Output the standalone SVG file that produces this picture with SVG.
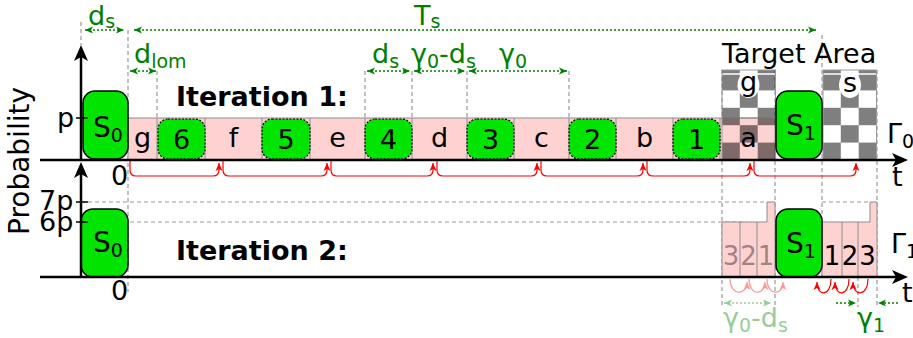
<svg xmlns="http://www.w3.org/2000/svg" width="913" height="338" viewBox="0 0 913 338">
<style>
text{font-family:"DejaVu Sans","Liberation Sans",sans-serif;font-size:27px;fill:#000}
.g{fill:#008000}
.b{font-weight:bold}
.sub{font-size:19px}
.dash{stroke:#999;stroke-width:1.2;stroke-dasharray:4 3;fill:none}
.dim{stroke:#008000;stroke-width:1.5;stroke-dasharray:2 2;fill:none;marker-start:url(#ga);marker-end:url(#ga)}
.axis{stroke:#000;stroke-width:2.5;fill:none;marker-end:url(#ax)}
.red{stroke:#f00;stroke-width:1.2;fill:none;marker-end:url(#ra)}
.pink{fill:#ffd2d2;stroke:#8c8c8c;stroke-width:1}
.sep{stroke:#8c8c8c;stroke-width:1}
.box{fill:#00e400;stroke:#000;stroke-width:1.5}
.nbox{fill:#00e400;stroke:#000;stroke-width:1.2;stroke-dasharray:2 1.5}
.tick{stroke:#000;stroke-width:1.5}
</style>
<defs>
<marker id="ax" viewBox="-20 -8 22 16" refX="-10" refY="0" markerWidth="22" markerHeight="16" orient="auto" markerUnits="userSpaceOnUse"><path d="M0,0 L-16,-7 L-12,0 L-16,7 Z" fill="#000"/></marker>
<marker id="ra" viewBox="-10 -5 12 10" refX="0" refY="0" markerWidth="12" markerHeight="10" orient="auto" markerUnits="userSpaceOnUse"><path d="M0,0 L-8,-3.5 L-6,0 L-8,3.5 Z" fill="#f00"/></marker>
<marker id="ga" viewBox="-10 -5 12 10" refX="0" refY="0" markerWidth="12" markerHeight="10" orient="auto-start-reverse" markerUnits="userSpaceOnUse"><path d="M0,0 L-8,-3.5 L-6,0 L-8,3.5 Z" fill="#008000"/></marker>
<g id="checker">
<g fill="#000" fill-opacity="0.5">
<rect x="0" y="0" width="17.8" height="20.4"/><rect x="35.7" y="0" width="17.8" height="20.4"/>
<rect x="17.8" y="20.4" width="17.9" height="17.4"/>
<rect x="0" y="37.8" width="17.8" height="17.4"/><rect x="35.7" y="37.8" width="17.8" height="17.4"/>
<rect x="17.8" y="55.2" width="17.9" height="17.4"/>
<rect x="0" y="72.6" width="17.8" height="17.4"/><rect x="35.7" y="72.6" width="17.8" height="17.4"/>
</g>
<line x1="0" y1="4" x2="53.5" y2="4" stroke="#fff" stroke-width="1.5"/>
<rect x="0" y="0" width="53.5" height="90" fill="none" stroke="#999" stroke-width="1"/>
</g>
</defs>

<g id="guides">
<line class="dash" x1="81" y1="22" x2="81" y2="45"/>
<line class="dash" x1="128" y1="30" x2="128" y2="292"/>
<line class="dash" x1="157" y1="71" x2="157" y2="118"/>
<line class="dash" x1="365" y1="71" x2="365" y2="118"/>
<line class="dash" x1="412" y1="71" x2="412" y2="118"/>
<line class="dash" x1="467" y1="71" x2="467" y2="118"/>
<line class="dash" x1="569" y1="71" x2="569" y2="118"/>
<line class="dash" x1="722" y1="70" x2="722" y2="307"/>
<line class="dash" x1="775" y1="70" x2="775" y2="307"/>
<line class="dash" x1="822" y1="35" x2="822" y2="277"/>
<line class="dash" x1="877" y1="70" x2="877" y2="307"/>
<line class="dash" x1="858" y1="277" x2="858" y2="307"/>
<line class="dash" x1="81" y1="202" x2="767" y2="202"/>
<line class="dash" x1="822" y1="202" x2="870" y2="202"/>
<line class="dash" x1="81" y1="222" x2="747" y2="222"/>
</g>

<g id="iteration1-strip">
<rect class="pink" x="128" y="118" width="647" height="42"/>
<use href="#checker" x="722" y="70"/>
<use href="#checker" x="823" y="70"/>
<g class="sep">
<line x1="157" y1="118" x2="157" y2="160"/><line x1="205" y1="118" x2="205" y2="160"/>
<line x1="262" y1="118" x2="262" y2="160"/><line x1="310" y1="118" x2="310" y2="160"/>
<line x1="365" y1="118" x2="365" y2="160"/><line x1="412" y1="118" x2="412" y2="160"/>
<line x1="467" y1="118" x2="467" y2="160"/><line x1="514" y1="118" x2="514" y2="160"/>
<line x1="569" y1="118" x2="569" y2="160"/><line x1="616" y1="118" x2="616" y2="160"/>
<line x1="673" y1="118" x2="673" y2="160"/><line x1="720" y1="118" x2="720" y2="160"/>
<line x1="722" y1="118" x2="775" y2="118"/>
</g>
<g text-anchor="middle">
<text x="142.5" y="147">g</text><text x="233.5" y="147">f</text><text x="337.5" y="147">e</text>
<text x="439.5" y="147">d</text><text x="541.5" y="147">c</text><text x="644.5" y="147">b</text>
<text x="748.5" y="147">a</text>
</g>
<ellipse cx="748.5" cy="85" rx="11" ry="13" fill="#fff"/>
<text x="748.5" y="91" text-anchor="middle">g</text>
<ellipse cx="850" cy="85" rx="11" ry="13" fill="#fff"/>
<text x="850" y="92" text-anchor="middle">s</text>
</g>

<g id="S0-1"><rect class="box" x="83" y="91" width="45" height="68" rx="12"/><text x="93" y="137" style="font-size:28px">S<tspan class="sub" dy="5">0</tspan></text></g>
<g id="box6"><rect class="nbox" x="158" y="119" width="47" height="40" rx="10"/><text x="181.5" y="149" text-anchor="middle">6</text></g>
<g id="box5"><rect class="nbox" x="262" y="119" width="48" height="40" rx="10"/><text x="286" y="149" text-anchor="middle">5</text></g>
<g id="box4"><rect class="nbox" x="365" y="119" width="47" height="40" rx="10"/><text x="388.5" y="149" text-anchor="middle">4</text></g>
<g id="box3"><rect class="nbox" x="467" y="119" width="47" height="40" rx="10"/><text x="490.5" y="149" text-anchor="middle">3</text></g>
<g id="box2"><rect class="nbox" x="569" y="119" width="47" height="40" rx="10"/><text x="592.5" y="149" text-anchor="middle">2</text></g>
<g id="box1"><rect class="nbox" x="673" y="119" width="47" height="40" rx="10"/><text x="696.5" y="149" text-anchor="middle">1</text></g>
<g id="S1-1"><rect class="box" x="776" y="91" width="46" height="68" rx="12"/><text x="786" y="135" style="font-size:28px">S<tspan class="sub" dy="5">1</tspan></text></g>

<g id="iteration2-strip">
<path class="pink" d="M722,277 V222 H767 V202 H775 V277 Z"/>
<path class="pink" d="M822,277 V222 H870 V202 H877 V277 Z"/>
<g class="sep">
<line x1="740" y1="222" x2="740" y2="277"/><line x1="757" y1="222" x2="757" y2="277"/>
<line x1="842" y1="222" x2="842" y2="277"/><line x1="858" y1="222" x2="858" y2="277"/>
</g>
<g text-anchor="middle">
<text x="731" y="265" style="fill-opacity:0.4;font-size:26px">3</text>
<text x="748.5" y="265" style="fill-opacity:0.4;font-size:26px">2</text>
<text x="766" y="265" style="fill-opacity:0.4;font-size:26px">1</text>
<text x="832" y="265" style="font-size:26px">1</text><text x="850" y="265" style="font-size:26px">2</text><text x="867.5" y="265" style="font-size:26px">3</text>
</g>
</g>
<g id="S0-2"><rect class="box" x="81" y="209" width="47" height="68" rx="12"/><text x="93" y="252" style="font-size:28px">S<tspan class="sub" dy="5">0</tspan></text></g>
<g id="S1-2"><rect class="box" x="776" y="209" width="46" height="68" rx="12"/><text x="786" y="253" style="font-size:28px">S<tspan class="sub" dy="5">1</tspan></text></g>

<g id="axes">
<path class="axis" d="M40,160 H898"/>
<path class="axis" d="M81,160 V55"/>
<path class="axis" d="M40,277 H898"/>
<path class="axis" d="M81,277 V172"/>
<line class="tick" x1="76" y1="118" x2="88" y2="118"/>
<line class="tick" x1="76" y1="202" x2="88" y2="202"/>
<line class="tick" x1="76" y1="222" x2="88" y2="222"/>
<text x="57" y="127">p</text>
<text x="39" y="210">7p</text>
<text x="39" y="231">6p</text>
<text x="111" y="185">0</text>
<text x="111" y="300">0</text>
<text x="892" y="186">t</text>
<text x="902" y="302">t</text>
<text x="887" y="143">Γ<tspan class="sub" dy="5">0</tspan></text>
<text x="891" y="253">Γ<tspan class="sub" dy="5">1</tspan></text>
<text transform="translate(29,161) rotate(-90)" text-anchor="middle" style="font-size:28px">Probability</text>
<text class="b" x="176" y="106">Iteration 1:</text>
<text class="b" x="176" y="260">Iteration 2:</text>
<text x="722" y="63">Target Area</text>
</g>

<g id="connectors">
<path class="red" d="M130,161 V170 Q130,176 136,176 H213 Q219,176 219,170 V163"/>
<path class="red" d="M223,161 V170 Q223,176 229,176 H321 Q327,176 327,170 V163"/>
<path class="red" d="M331,161 V170 Q331,176 337,176 H427 Q433,176 433,170 V163"/>
<path class="red" d="M437,161 V170 Q437,176 443,176 H531 Q537,176 537,170 V163"/>
<path class="red" d="M541,161 V170 Q541,176 547,176 H637 Q643,176 643,170 V163"/>
<path class="red" d="M647,161 V170 Q647,176 653,176 H744 Q750,176 750,170 V163"/>
<path class="red" d="M754,161 V170 Q754,176 760,176 H850 Q856,176 856,170 V163"/>
<g opacity="0.4">
<path class="red" d="M730,279 C730,296 747,296 747,282"/>
<path class="red" d="M749,279 C749,296 765,296 765,282"/>
<path class="red" d="M767,279 C767,296 783,296 783,282"/>
</g>
<path class="red" d="M831,279 C831,297 817,297 817,282"/>
<path class="red" d="M849,279 C849,297 835,297 835,282"/>
<path class="red" d="M868,279 C868,297 853,297 853,282"/>
</g>

<g id="dimensions">
<path class="dim" d="M85,30 H124"/>
<text class="g" x="88" y="25">d<tspan class="sub" dy="3">s</tspan></text>
<path class="dim" d="M134,30 H816"/>
<text class="g" x="414" y="25">T<tspan class="sub" dy="3">s</tspan></text>
<path class="dim" d="M130,71 H156"/>
<text class="g" x="134" y="63">d<tspan class="sub" dy="5">lom</tspan></text>
<path class="dim" d="M367,71 H410"/>
<text class="g" x="372" y="63">d<tspan class="sub" dy="5">s</tspan></text>
<path class="dim" d="M414,71 H465"/>
<text class="g" x="411" y="63">γ<tspan class="sub" dy="5">0</tspan><tspan dy="-5">-d</tspan><tspan class="sub" dy="5">s</tspan></text>
<path class="dim" d="M469,71 H567"/>
<text class="g" x="499" y="63">γ<tspan class="sub" dy="5">0</tspan></text>
<g opacity="0.4">
<path class="dim" d="M724,303 H771"/>
<text class="g" x="723" y="327">γ<tspan class="sub" dy="5">0</tspan><tspan dy="-5">-d</tspan><tspan class="sub" dy="5">s</tspan></text>
</g>
<path d="M836,303 H856" stroke="#008000" stroke-width="1.5" stroke-dasharray="2 2" fill="none" marker-end="url(#ga)"/>
<path d="M898,303 H878" stroke="#008000" stroke-width="1.5" stroke-dasharray="2 2" fill="none" marker-end="url(#ga)"/>
<text class="g" x="857" y="327">γ<tspan class="sub" dy="5">1</tspan></text>
</g>
</svg>
